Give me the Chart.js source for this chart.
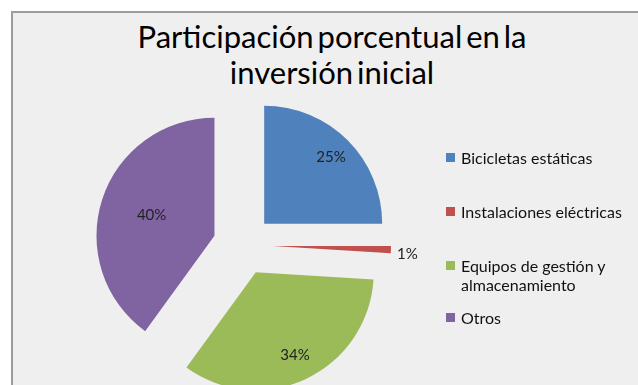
<!DOCTYPE html>
<html>
<head>
<meta charset="utf-8">
<script src="https://cdn.jsdelivr.net/npm/chart.js@4.4.1/dist/chart.umd.min.js"></script>
<style>
  html, body { margin: 0; padding: 0; background: #fff; }
  #wrap { position: relative; width: 638px; height: 385px; overflow: hidden; }
  #frame {
    position: absolute; left: 11px; top: 11px; right: -4px; bottom: -4px;
    background: #efefef; border: 2px solid #9c9c9c;
  }
  #chart { position: absolute; left: 0; top: 0; }
  #title {
    position: absolute; left: 132px; width: 400px; top: 18px;
    font-family: Lato, "Open Sans", sans-serif; font-size: 31px; line-height: 36px;
    text-align: center; color: #000; word-spacing: -4px;
  }
  #legend {
    position: absolute; left: 446px; top: 148px; width: 192px;
    font-family: Lato, "Open Sans", sans-serif; font-size: 16px; color: #111;
  }
  .item { position: absolute; left: 0; padding-left: 15px; line-height: 19px; white-space: nowrap; }
  .item i { position: absolute; left: 0; top: 5px; width: 9px; height: 9px; }
</style>
</head>
<body>
<div id="wrap">
  <div id="frame"></div>
  <div id="title">Participación porcentual en la<br>inversión inicial</div>
  <canvas id="chart" width="638" height="385"></canvas>
  <div id="legend"></div>
</div>
<script>
const categorias = ['Bicicletas estáticas', 'Instalaciones eléctricas', 'Equipos de gestión y almacenamiento', 'Otros'];
const legendaLinhas = [['Bicicletas estáticas'], ['Instalaciones eléctricas'], ['Equipos de gestión y', 'almacenamiento'], ['Otros']];
const participacao = [25, 1, 34, 40];
const cores = ['#4F81BD', '#C0504D', '#9BBB59', '#8064A2'];
const legendaTopo = [0, 54, 108, 160];
// fração do raio onde vai cada rótulo (>1 fica fora da fatia)
const posRotulo = [0.8, 1.14, 0.78, 0.56];

// legenda em html, ao lado da pizza
const leg = document.getElementById('legend');
legendaLinhas.forEach((linhas, i) => {
    const d = document.createElement('div');
    d.className = 'item';
    d.style.top = legendaTopo[i] + 'px';
    d.innerHTML = '<i style="background:' + cores[i] + '"></i>' + linhas.join('<br>');
    leg.appendChild(d);
});

// distância de cada fatia até o centro (pizza "explodida")
const explode = 30;

function deslocamento(arc) {
    const mid = (arc.startAngle + arc.endAngle) / 2;
    return { dx: Math.cos(mid) * explode, dy: Math.sin(mid) * explode, mid };
}

// desenha as fatias afastadas do centro, sem o ajuste de raio do offset padrão
const fatias = {
    id: 'fatias',
    beforeDatasetDraw(chart, args) {
        const ctx = chart.ctx;
        args.meta.data.forEach(arc => {
            const d = deslocamento(arc);
            ctx.save();
            ctx.translate(d.dx, d.dy);
            arc.draw(ctx);
            ctx.restore();
        });
        return false;
    }
};

// rótulos de porcentagem sobre cada fatia
const rotulos = {
    id: 'rotulos',
    afterDatasetsDraw(chart) {
        const ctx = chart.ctx;
        const meta = chart.getDatasetMeta(0);
        ctx.save();
        ctx.font = '15px Lato, "Open Sans", sans-serif';
        ctx.fillStyle = '#222';
        ctx.textAlign = 'center';
        ctx.textBaseline = 'middle';
        meta.data.forEach((arc, i) => {
            const d = deslocamento(arc);
            const r = arc.outerRadius * posRotulo[i];
            const x = arc.x + d.dx + Math.cos(d.mid) * r;
            const y = arc.y + d.dy + Math.sin(d.mid) * r + (posRotulo[i] > 1 ? 4 : 0);
            ctx.fillText(participacao[i] + '%', x, y);
        });
        ctx.restore();
    }
};

new Chart(document.getElementById('chart'), {
    type: 'pie',
    data: {
        labels: categorias,
        datasets: [{
            data: participacao,
            backgroundColor: cores,
            borderWidth: 0,
            hoverOffset: 0
        }]
    },
    options: {
        responsive: false,
        animation: false,
        layout: { padding: { left: 125, right: 277, top: 127, bottom: 22 } },
        plugins: {
            legend: { display: false },
            title: { display: false },
            tooltip: { enabled: false }
        }
    },
    plugins: [fatias, rotulos]
});
</script>
</body>
</html>
